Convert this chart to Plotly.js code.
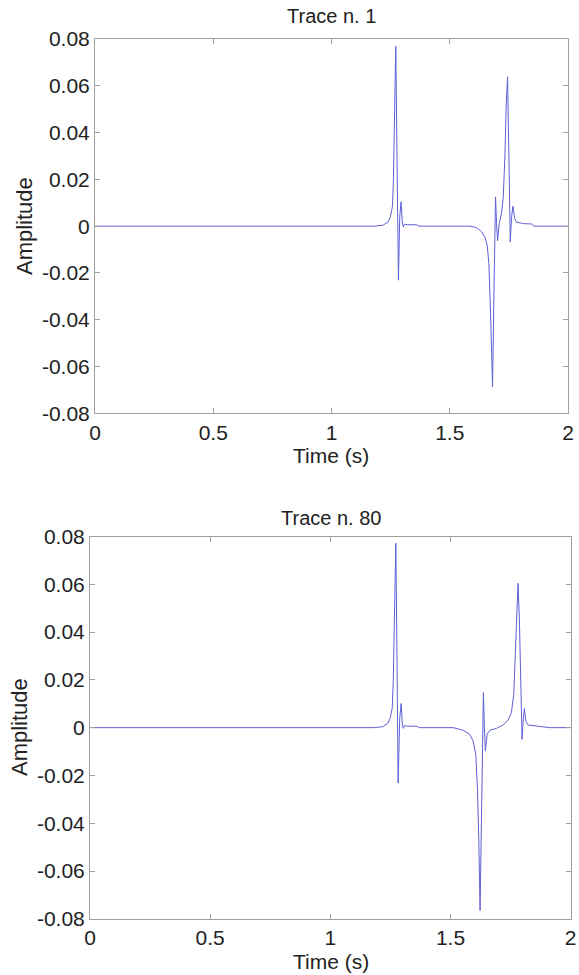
<!DOCTYPE html>
<html>
<head>
<meta charset="utf-8">
<script src="https://cdn.plot.ly/plotly-3.0.1.min.js"></script>
<style>html,body{margin:0;padding:0;background:#fff;}#chart{width:579px;height:975px;}</style>
</head>
<body>
<div id="chart"></div>
<script>
// Trace n. 1
var time1 = [0, 1.150, 1.160, 1.170, 1.180, 1.218, 1.239, 1.249, 1.2576, 1.2618, 1.266, 1.2717, 1.2773, 1.283, 1.2886, 1.2943, 1.2999, 1.304, 1.3083, 1.32, 1.36, 1.37, 1.585, 1.6133, 1.6344, 1.6486, 1.6584, 1.6655, 1.6725, 1.681, 1.6866, 1.6937, 1.6979, 1.7022, 1.7092, 1.7191, 1.7262, 1.7332, 1.7389, 1.7445, 1.7502, 1.7558, 1.7615, 1.7671, 1.7742, 1.7826, 1.8109, 1.8462, 1.856, 2.0];
var amp1 = [0, 0, 0.0003, 0.0003, 0, 0.0004, 0.0018, 0.004, 0.0083, 0.0197, 0.0481, 0.0769, 0.0268, -0.0231, 0.004, 0.0104, 0.0009, -0.0003, 0.0009, 0.0006, 0.0006, 0, 0, -0.0006, -0.0024, -0.0046, -0.0081, -0.0159, -0.0373, -0.0687, -0.0302, 0.0125, 0.0011, -0.0063, 0.0011, 0.0057, 0.0125, 0.0296, 0.0524, 0.0638, 0.0296, -0.0067, 0.004, 0.0085, 0.0033, 0.0017, 0.0011, 0.0009, 0, 0];

// Trace n. 80
var time80 = [0, 1.15, 1.16, 1.17, 1.18, 1.218, 1.239, 1.249, 1.2576, 1.2618, 1.266, 1.2723, 1.2775, 1.282, 1.2886, 1.2945, 1.2999, 1.304, 1.3083, 1.32, 1.36, 1.37, 1.511, 1.553, 1.58, 1.5939, 1.605, 1.6119, 1.6175, 1.623, 1.6285, 1.6368, 1.641, 1.6451, 1.6521, 1.6632, 1.691, 1.7187, 1.7395, 1.7533, 1.763, 1.7699, 1.7755, 1.781, 1.7866, 1.7921, 1.7976, 1.8032, 1.8073, 1.8129, 1.8226, 1.8573, 1.9127, 2.0];
var amp80 = [0, 0, 0.0003, 0.0003, 0, 0.0004, 0.0018, 0.004, 0.0083, 0.0197, 0.0481, 0.0772, 0.027, -0.0232, 0.004, 0.0101, 0.0009, -0.0003, 0.0009, 0.0006, 0.0006, 0, 0, -0.0011, -0.0028, -0.0056, -0.0112, -0.0253, -0.0463, -0.0765, -0.0393, 0.0147, 0, -0.0098, -0.0028, -0.0011, -0.0003, 0.0011, 0.0031, 0.0063, 0.014, 0.0309, 0.052, 0.0604, 0.0449, 0.0168, -0.0049, 0.0042, 0.008, 0.0028, 0.0011, 0.0007, 0, 0];

var xTickVals = [0, 0.5, 1, 1.5, 2];
var xTickText = ['0', '0.5', '1', '1.5', '2'];
var yTickVals = [-0.08, -0.06, -0.04, -0.02, 0, 0.02, 0.04, 0.06, 0.08];
var yTickText = ['-0.08', '-0.06', '-0.04', '-0.02', '0', '0.02', '0.04', '0.06', '0.08'];

var titles = ['Trace n. 1', 'Trace n. 80'];
var xLabel = 'Time (s)';
var yLabel = 'Amplitude';

var W = 579, H = 975;
var FONT = 'Liberation Sans, Arial, Helvetica, sans-serif';
var TXT = '#222222';
var lineCol = 'rgb(95,95,215)';

function xa(dom, anchor) {
  return {
    domain: dom, anchor: anchor, range: [0, 2], tickmode: 'array',
    tickvals: xTickVals, ticktext: xTickText, showgrid: false, zeroline: false,
    showline: true, linecolor: '#a0a0a0', linewidth: 1, mirror: 'ticks',
    ticks: 'inside', ticklen: 5, tickcolor: '#a0a0a0',
    tickfont: {family: FONT, size: 21, color: TXT}
  };
}
function ya(dom, anchor) {
  return {
    domain: dom, anchor: anchor, range: [-0.08, 0.08], tickmode: 'array',
    tickvals: yTickVals, ticktext: yTickText, showgrid: false, zeroline: false,
    showline: true, linecolor: '#a0a0a0', linewidth: 1, mirror: 'ticks',
    ticks: 'inside', ticklen: 5, tickcolor: '#a0a0a0',
    tickfont: {family: FONT, size: 21, color: TXT}
  };
}

var boxTop = {l: 95, r: 568, t: 39, b: 413.3};
var boxBot = {l: 90, r: 570.7, t: 536.5, b: 918.8};

var data = [
  {x: time1, y: amp1, type: 'scatter', mode: 'lines', line: {color: lineCol, width: 1}, xaxis: 'x', yaxis: 'y', showlegend: false, hoverinfo: 'skip'},
  {x: time80, y: amp80, type: 'scatter', mode: 'lines', line: {color: lineCol, width: 1}, xaxis: 'x2', yaxis: 'y2', showlegend: false, hoverinfo: 'skip'}
];

function ann(text, px, py, angle, size) {
  return {text: text, xref: 'paper', yref: 'paper', x: px / W, y: 1 - py / H,
    xanchor: 'center', yanchor: 'middle', showarrow: false, textangle: angle || 0,
    font: {family: FONT, size: size || 20, color: TXT}};
}

var layout = {
  width: W, height: H, margin: {l: 0, r: 0, t: 0, b: 0},
  paper_bgcolor: '#ffffff', plot_bgcolor: '#ffffff', showlegend: false,
  xaxis: xa([boxTop.l / W, boxTop.r / W], 'y'),
  yaxis: ya([1 - boxTop.b / H, 1 - boxTop.t / H], 'x'),
  xaxis2: xa([boxBot.l / W, boxBot.r / W], 'y2'),
  yaxis2: ya([1 - boxBot.b / H, 1 - boxBot.t / H], 'x2'),
  annotations: [
    ann(titles[0], 331, 16),
    ann(titles[1], 331, 518),
    ann(xLabel, 331, 455, 0, 21),
    ann(xLabel, 331, 961, 0, 21),
    ann(yLabel, 24, 226, -90, 22),
    ann(yLabel, 19, 727, -90, 22)
  ]
};

Plotly.newPlot('chart', data, layout, {staticPlot: true, displayModeBar: false});
</script>
</body>
</html>
